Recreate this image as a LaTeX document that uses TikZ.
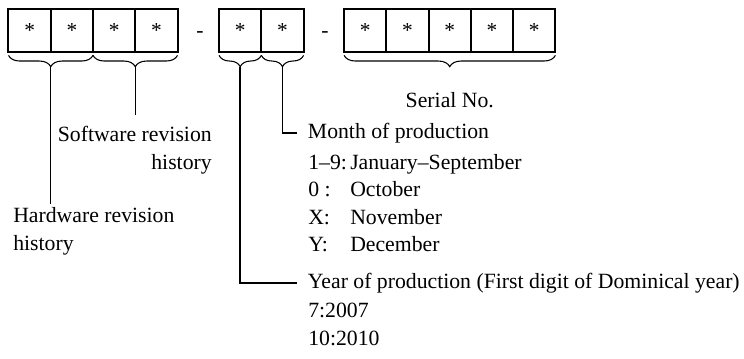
\documentclass[tikz,border=0pt]{standalone}
\usepackage{fontspec}
\setmainfont{Liberation Serif}
\usetikzlibrary{positioning, decorations.pathreplacing}

\newcommand{\mitem}[2]{\makebox[31.5pt][l]{#1}#2}

\begin{document}
\begin{tikzpicture}[
    x=0.75pt, y=-0.75pt,
    cell/.style={rectangle, draw, line width=1.5pt, minimum width=31.7pt, minimum height=32.3pt, inner sep=0pt, outer sep=0pt, font=\fontsize{16}{20}\selectfont},
    lbl/.style={inner sep=0pt, align=left, font=\fontsize{16.3}{20.6}\selectfont},
    tag/.style={lbl, anchor=west, inner xsep=8pt},
    brace/.style={decorate, decoration={brace, mirror, amplitude=8.5pt}, line width=0.8pt},
    conn/.style={line width=1.1pt},
]
    \useasboundingbox (0,0) rectangle (744,359);

    % Cells
    \node[cell] (hw1) at (29.6,30.5) {*};
    \node[cell, right=0pt of hw1] (hw2) {*};
    \node[cell, right=0pt of hw2] (sw1) {*};
    \node[cell, right=0pt of sw1] (sw2) {*};
    \node[lbl] (dash1) at (200,35) {-};
    \node[cell] (yr) at (240.2,30.5) {*};
    \node[cell, right=0pt of yr] (mo) {*};
    \node[lbl] (dash2) at (325,35) {-};
    \node[cell] (sn1) at (365.2,30.5) {*};
    \node[cell, right=0pt of sn1] (sn2) {*};
    \node[cell, right=0pt of sn2] (sn3) {*};
    \node[cell, right=0pt of sn3] (sn4) {*};
    \node[cell, right=0pt of sn4] (sn5) {*};

    % Braces
    \draw[brace] ([yshift=-2.5pt]hw1.south west) -- ([yshift=-2.5pt]hw2.south east) coordinate[midway, yshift=-8.5pt] (hwtip);
    \draw[brace] ([yshift=-2.5pt]sw1.south west) -- ([yshift=-2.5pt]sw2.south east) coordinate[midway, yshift=-8.5pt] (swtip);
    \draw[brace] ([yshift=-2.5pt]yr.south west) -- ([yshift=-2.5pt]yr.south east) coordinate[midway, yshift=-8.5pt] (yrtip);
    \draw[brace] ([yshift=-2.5pt]mo.south west) -- ([yshift=-2.5pt]mo.south east) coordinate[midway, yshift=-8.5pt] (motip);
    \draw[brace] ([yshift=-2.5pt]sn1.south west) -- ([yshift=-2.5pt]sn5.south east) coordinate[midway, yshift=-8.5pt] (sntip);

    % Labels
    \node[lbl, anchor=west] (hwlbl) at (13,231.5) {Hardware revision\\history};
    \node[lbl, align=right, anchor=east] (swlbl) at (212,150) {Software revision\\history};
    \node[lbl] (snlbl) at (449.8,100) {Serial No.};
    \node[tag] (molbl) at (297,133) {Month of production};
    \node[lbl, anchor=west] (molist) at (308,203) {\mitem{1–9:}{January–September}\\\mitem{0 :}{October}\\\mitem{X:}{November}\\\mitem{Y:}{December}};
    \node[tag] (yrlbl) at (297,283) {Year of production (First digit of Dominical year)};
    \node[lbl, anchor=west] (yrlist) at (308,324.5) {7:2007\\10:2010};

    % Lines
    \draw[conn] (hwtip) -- ([yshift=2.5pt]hwtip |- hwlbl.north);
    \draw[conn] (swtip) -- ([yshift=8pt]swtip |- swlbl.north);
    \draw[conn] (motip) |- (molbl.west);
    \draw[conn] (yrtip) |- (yrlbl.west);
\end{tikzpicture}
\end{document}
